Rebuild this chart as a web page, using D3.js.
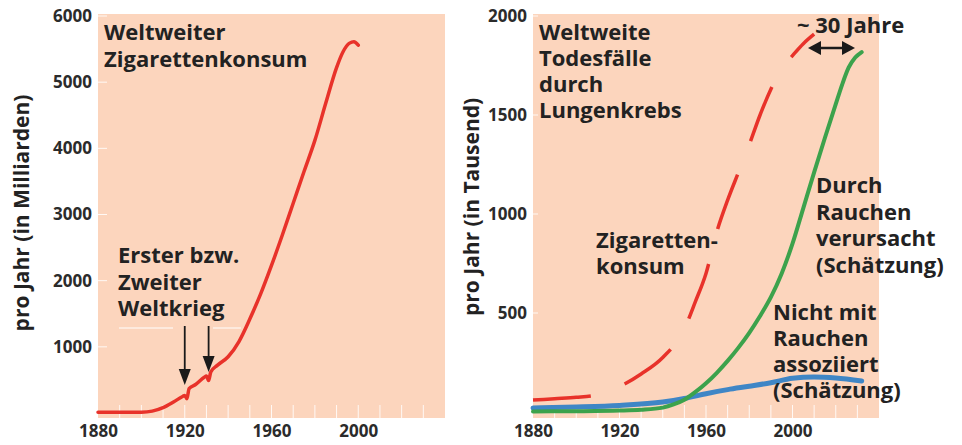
<!DOCTYPE html>
<html>
<head>
<meta charset="utf-8">
<script src="https://cdn.jsdelivr.net/npm/d3@7"></script>
<style>
    body { margin: 0; background: #fff; }
    svg text { font-family: "Open Sans", "DejaVu Sans", sans-serif; font-weight: bold; }
    .tick text { fill: #2b2b2b; font-size: 17px; }
    .note { fill: #222; font-size: 22px; }
    .title { fill: #222; font-size: 21px; }
</style>
</head>
<body>
<svg id="chart" width="962" height="445"></svg>
<script>
// tick labels
const yearTicks = [1880, 1920, 1960, 2000];
const minorYears = d3.range(1890, 2040, 10);
const cigTicks = [1000, 2000, 3000, 4000, 5000, 6000];
const deathTicks = [500, 1000, 1500, 2000];

// left: worldwide cigarette consumption (billions per year)
const cigYears = [1880, 1890, 1900, 1905, 1910, 1915, 1919, 1920, 1921, 1922, 1925, 1929, 1930, 1931, 1932, 1935, 1940, 1945, 1950, 1955, 1960, 1965, 1970, 1975, 1980, 1985, 1990, 1993, 1996, 1998, 2000];
const cigValues = [10, 10, 12, 28, 80, 170, 250, 265, 215, 370, 430, 540, 560, 490, 620, 720, 850, 1080, 1420, 1800, 2230, 2690, 3170, 3650, 4120, 4680, 5220, 5460, 5590, 5610, 5560];

// right: cigarette consumption curve (dashed, in the thousand scale)
const dashYears = [1880, 1890, 1900, 1910, 1920, 1930, 1940, 1950, 1955, 1960, 1965, 1970, 1975, 1980, 1985, 1990, 1995, 2000, 2005, 2010];
const dashValues = [60, 67, 74, 88, 128, 192, 275, 420, 555, 700, 910, 1070, 1210, 1350, 1500, 1630, 1735, 1800, 1860, 1908];

// right: lung cancer deaths caused by smoking (thousand per year)
const smokeYears = [1880, 1900, 1920, 1930, 1940, 1945, 1950, 1955, 1960, 1965, 1970, 1975, 1980, 1985, 1990, 1995, 2000, 2005, 2010, 2015, 2020, 2023, 2026, 2029, 2032];
const smokeDeaths = [3, 4, 7, 11, 22, 38, 62, 100, 145, 198, 258, 325, 400, 485, 580, 700, 850, 1030, 1210, 1385, 1555, 1655, 1740, 1790, 1818];

// right: lung cancer deaths not associated with smoking
const otherYears = [1880, 1900, 1920, 1940, 1950, 1960, 1970, 1980, 1990, 2000, 2010, 2020, 2032];
const otherDeaths = [20, 25, 33, 50, 68, 92, 113, 130, 148, 170, 177, 172, 157];

const svg = d3.select("#chart");
const bg = "#fcd5bd";

function panel(x, y, yTicks, left) {
    const [x0, x1] = x.range();
    svg.append("rect")
        .attr("x", x0).attr("y", 14)
        .attr("width", x1 - x0).attr("height", 404)
        .attr("fill", bg);

    // white tick marks
    svg.append("g").selectAll("line")
        .data(minorYears)
        .enter().append("line")
        .attr("x1", d => x(d)).attr("x2", d => x(d))
        .attr("y1", 405).attr("y2", 418)
        .attr("stroke", "#fff").attr("stroke-opacity", 0.85);
    svg.append("g").selectAll("line")
        .data(yTicks)
        .enter().append("line")
        .attr("x1", x0 - 5).attr("x2", x0 + (left ? 9 : 5))
        .attr("y1", d => y(d)).attr("y2", d => y(d))
        .attr("stroke", "#fff").attr("stroke-opacity", 0.85);

    const ax = svg.append("g")
        .attr("transform", "translate(0,418)")
        .call(d3.axisBottom(x).tickValues(yearTicks).tickSize(0).tickPadding(7).tickFormat(d3.format("d")));
    ax.select(".domain").remove();

    const ay = svg.append("g")
        .attr("transform", "translate(" + x0 + ",0)")
        .call(d3.axisLeft(y).tickValues(yTicks).tickSize(0).tickPadding(6).tickFormat(d3.format("d")));
    ay.select(".domain").remove();
}

function curve(x, y, years, values) {
    return d3.line()
        .x((d, i) => x(years[i]))
        .y(d => y(d))
        .curve(d3.curveMonotoneX)(values);
}

function lines(g, rows, x0, y0, dy) {
    const t = g.append("text").attr("class", "note");
    rows.forEach((r, i) => {
        t.append("tspan").attr("x", x0).attr("y", y0 + i * dy).text(r);
    });
}

// ---- left panel
const xL = d3.scaleLinear().domain([1880, 2040]).range([98, 445]);
const yL = d3.scaleLinear().domain([0, 6000]).range([413, 16]);
panel(xL, yL, cigTicks, true);

svg.append("path")
    .attr("d", curve(xL, yL, cigYears, cigValues))
    .attr("fill", "none")
    .attr("stroke", "#e8322a")
    .attr("stroke-width", 3.5)
    .attr("stroke-linecap", "round");

svg.append("text")
    .attr("class", "title")
    .attr("transform", "translate(29,213) rotate(-90)")
    .attr("text-anchor", "middle")
    .text("pro Jahr (in Milliarden)");

lines(svg, ["Weltweiter", "Zigarettenkonsum"], 104, 40, 27);
lines(svg, ["Erster bzw.", "Zweiter", "Weltkrieg"], 118, 263, 26.5);

svg.append("g").selectAll("line")
    .data([[119, 173], [213, 241]])
    .enter().append("line")
    .attr("x1", d => d[0]).attr("x2", d => d[1])
    .attr("y1", 328).attr("y2", 328)
    .attr("stroke", "#fff").attr("stroke-width", 1);

function downArrow(x, yTop, yTip) {
    svg.append("line")
        .attr("x1", x).attr("x2", x)
        .attr("y1", yTop).attr("y2", yTip - 12)
        .attr("stroke", "#1a1a1a").attr("stroke-width", 1.8);
    svg.append("path")
        .attr("d", "M" + (x - 6) + "," + (yTip - 16) + "L" + (x + 6) + "," + (yTip - 16) + "L" + x + "," + yTip + "Z")
        .attr("fill", "#1a1a1a");
}
downArrow(xL(1920), 326, 385);
downArrow(xL(1931), 326, 372);

// ---- right panel
const xR = d3.scaleLinear().domain([1880, 2040]).range([533, 879]);
const yR = d3.scaleLinear().domain([0, 2000]).range([412, 16]);
panel(xR, yR, deathTicks, false);

svg.append("path")
    .attr("d", curve(xR, yR, otherYears, otherDeaths))
    .attr("fill", "none")
    .attr("stroke", "#3f86c6")
    .attr("stroke-width", 5)
    .attr("stroke-linecap", "round");

svg.append("path")
    .attr("d", curve(xR, yR, smokeYears, smokeDeaths))
    .attr("fill", "none")
    .attr("stroke", "#3ca24c")
    .attr("stroke-width", 4)
    .attr("stroke-linecap", "round");

svg.append("path")
    .attr("d", curve(xR, yR, dashYears, dashValues))
    .attr("fill", "none")
    .attr("stroke", "#e8322a")
    .attr("stroke-width", 3.5)
    .attr("stroke-dasharray", "58 36");

svg.append("text")
    .attr("class", "title")
    .attr("transform", "translate(479,207) rotate(-90)")
    .attr("text-anchor", "middle")
    .text("pro Jahr (in Tausend)");

lines(svg, ["Weltweite", "Todesfälle", "durch", "Lungenkrebs"], 539, 40, 26);
lines(svg, ["~ 30 Jahre"], 797, 33, 0);
lines(svg, ["Zigaretten-", "konsum"], 596, 248, 25.5);
lines(svg, ["Durch", "Rauchen", "verursacht", "(Schätzung)"], 816, 193, 26.7);
lines(svg, ["Nicht mit", "Rauchen", "assoziiert", "(Schätzung)"], 773, 320, 26);

// ~30 years double arrow
const ay0 = 48, axa = 808, axb = 855;
svg.append("line")
    .attr("x1", axa + 10).attr("x2", axb - 10)
    .attr("y1", ay0).attr("y2", ay0)
    .attr("stroke", "#1a1a1a").attr("stroke-width", 2.5);
svg.append("path")
    .attr("d", "M" + axa + "," + ay0 + "L" + (axa + 13) + "," + (ay0 - 7) + "L" + (axa + 13) + "," + (ay0 + 7) + "Z")
    .attr("fill", "#1a1a1a");
svg.append("path")
    .attr("d", "M" + axb + "," + ay0 + "L" + (axb - 13) + "," + (ay0 - 7) + "L" + (axb - 13) + "," + (ay0 + 7) + "Z")
    .attr("fill", "#1a1a1a");
</script>
</body>
</html>
